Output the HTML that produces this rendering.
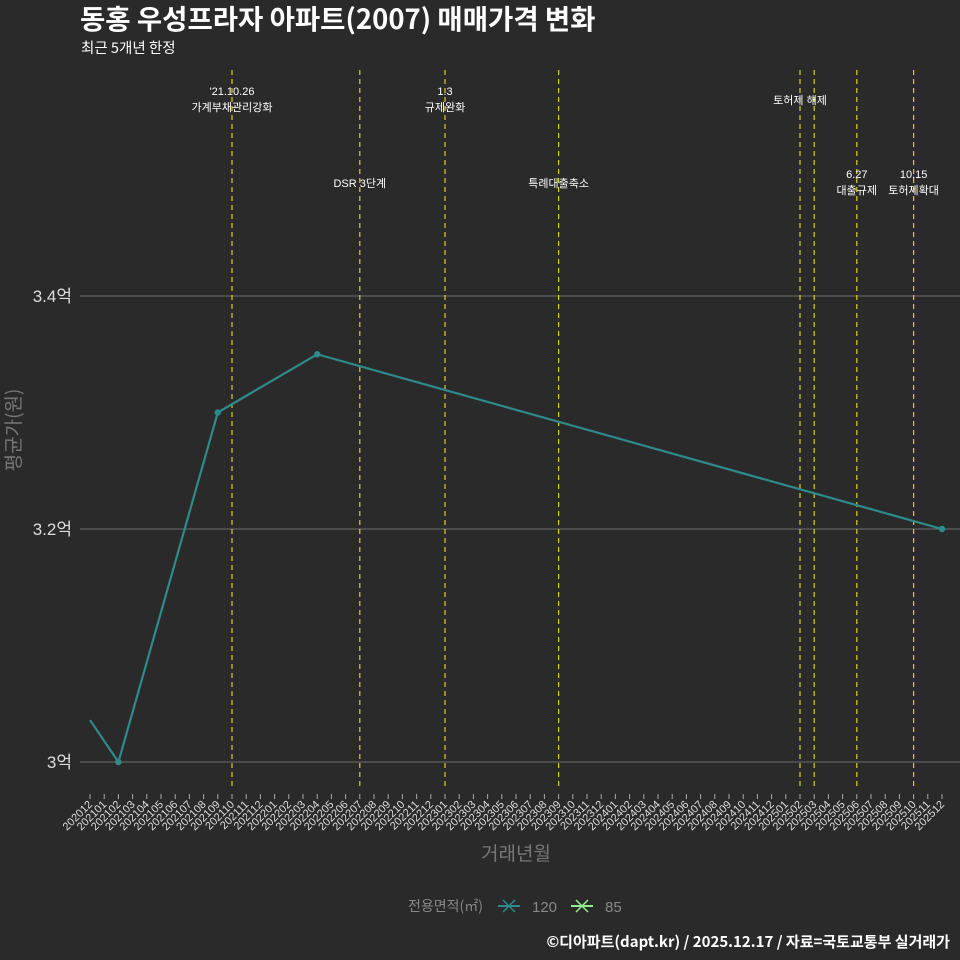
<!DOCTYPE html>
<html><head><meta charset="utf-8"><style>
body{margin:0;background:#2b2a2b;}
svg{display:block;font-family:"Liberation Sans","Noto Sans CJK KR",sans-serif;}
.cjk{font-family:"Noto Sans CJK KR",sans-serif;}
</style></head><body>
<svg id="chart" width="960" height="960" viewBox="0 0 960 960">
<rect width="960" height="960" fill="#2b2a2b"/>
<text class="cjk" x="80" y="29" font-size="27.5" font-weight="bold" fill="#ffffff">동홍 우성프라자 아파트(2007) 매매가격 변화</text>
<text class="cjk" x="81" y="53" font-size="14.5" fill="#ffffff">최근 5개년 한정</text>
<g id="grid"></g><g id="events"></g><g id="xaxis"></g><g id="yaxis"></g><g id="series"></g>
<text class="cjk" x="20" y="430" font-size="19" fill="#777" text-anchor="middle" transform="rotate(-90 20 430)">평균가(원)</text>
<text class="cjk" x="516" y="860" font-size="19" fill="#777" text-anchor="middle">거래년월</text>
<g>
<text class="cjk" x="408" y="911" font-size="14" fill="#888">전용면적(㎡)</text>
<g><line x1="498" y1="906" x2="520" y2="906" stroke="#2e8b8b" stroke-width="2"/><line x1="503" y1="900" x2="515" y2="912" stroke="#2e8b8b" stroke-width="1.5"/><line x1="503" y1="912" x2="515" y2="900" stroke="#2e8b8b" stroke-width="1.5"/><text x="532" y="912" font-size="15" fill="#888">120</text></g>
<g><line x1="571" y1="906" x2="593" y2="906" stroke="#90ee90" stroke-width="2"/><line x1="576" y1="900" x2="588" y2="912" stroke="#90ee90" stroke-width="1.5"/><line x1="576" y1="912" x2="588" y2="900" stroke="#90ee90" stroke-width="1.5"/><text x="605" y="912" font-size="15" fill="#888">85</text></g>
</g>
<text class="cjk" x="950" y="947" font-size="15" font-weight="bold" fill="#ffffff" text-anchor="end">©디아파트(dapt.kr) / 2025.12.17 / 자료=국토교통부 실거래가</text>
</svg>
<script>
const months = [];
for (let y = 2020; y <= 2025; y++) for (let m = 1; m <= 12; m++) { const s = y + String(m).padStart(2,'0'); if (s >= '202012') months.push(s); }
const yTicks = [3.0, 3.2, 3.4];
const yTickLabels = ['3억', '3.2억', '3.4억'];
const seriesMonths = ['202012', '202102', '202109', '202204', '202512'];
const seriesValues = [3.036, 3.0, 3.3, 3.35, 3.2];
const markerMonths = ['202102', '202109', '202204', '202512'];
const eventMonths = ['202110', '202207', '202301', '202309', '202502', '202503', '202506', '202510'];
const eventLabels = [["'21.10.26", '가계부채관리강화'], ['DSR 3단계'], ['1.3', '규제완화'], ['특례대출축소'], [], [], ['6.27', '대출규제'], ['10.15', '토허제확대']];
const ns = 'http://www.w3.org/2000/svg';
const xS = m => 90 + months.indexOf(m) * (852 / 60);
const yS = v => 762 - (v - 3.0) * 1165;
function mk(tag, attrs, parent) { const e = document.createElementNS(ns, tag); for (const k in attrs) e.setAttribute(k, attrs[k]); document.getElementById(parent).appendChild(e); return e; }
yTicks.forEach((v, i) => {
  const g = mk('line', {x1: 80, x2: 960, y1: yS(v), y2: yS(v), stroke: '#6e6e6e', 'stroke-width': 1}, 'grid');
  
  
  const t = mk('text', {x: 72, y: yS(v) + 6, 'font-size': 17, fill: '#dddddd', 'text-anchor': 'end'}, 'yaxis');
  t.textContent = yTickLabels[i];
  
  
});
months.forEach(m => {
  const x = xS(m);
  const tk = mk('line', {x1: x, x2: x, y1: 794, y2: 799, stroke: '#aaa'}, 'xaxis');
  
  
  const t = mk('text', {x: x + 3, y: 805, 'font-size': 11, fill: '#dddddd', 'text-anchor': 'end', transform: `rotate(-45 ${x + 3} 805)`}, 'xaxis');
  t.textContent = m;
  
  
});
eventMonths.forEach((m, i) => {
  const x = xS(m);
  const l = mk('line', {x1: x, x2: x, y1: 70, y2: 790, stroke: '#d4d41a', 'stroke-width': 1.2, 'stroke-dasharray': '5,4'}, 'events');
  
  
  const lab = eventLabels[i];
  let y0 = (i === 1 || i === 3) ? 187 : (i >= 6 ? 178 : 95);
  lab.forEach((s, j) => {
    const t = mk('text', {x: x, y: y0 + j * 16, 'font-size': 11, fill: '#ffffff', 'text-anchor': 'middle'}, 'events');
    t.textContent = s;
    
    
  });
});
const tl = mk('text', {x: 800, y: 104, 'font-size': 11, fill: '#ffffff', 'text-anchor': 'middle'}, 'events');
tl.textContent = '토허제 해제';


const pts = seriesMonths.map((m, i) => xS(m) + ',' + yS(seriesValues[i])).join(' ');
const pl = mk('polyline', {points: pts, fill: 'none', stroke: '#2e8b8b', 'stroke-width': 2.2}, 'series');


markerMonths.forEach(m => {
  const i = seriesMonths.indexOf(m);
  const c = mk('circle', {cx: xS(m), cy: yS(seriesValues[i]), r: 3.2, fill: '#2e8b8b'}, 'series');
  
  
});
</script>
</body></html>
